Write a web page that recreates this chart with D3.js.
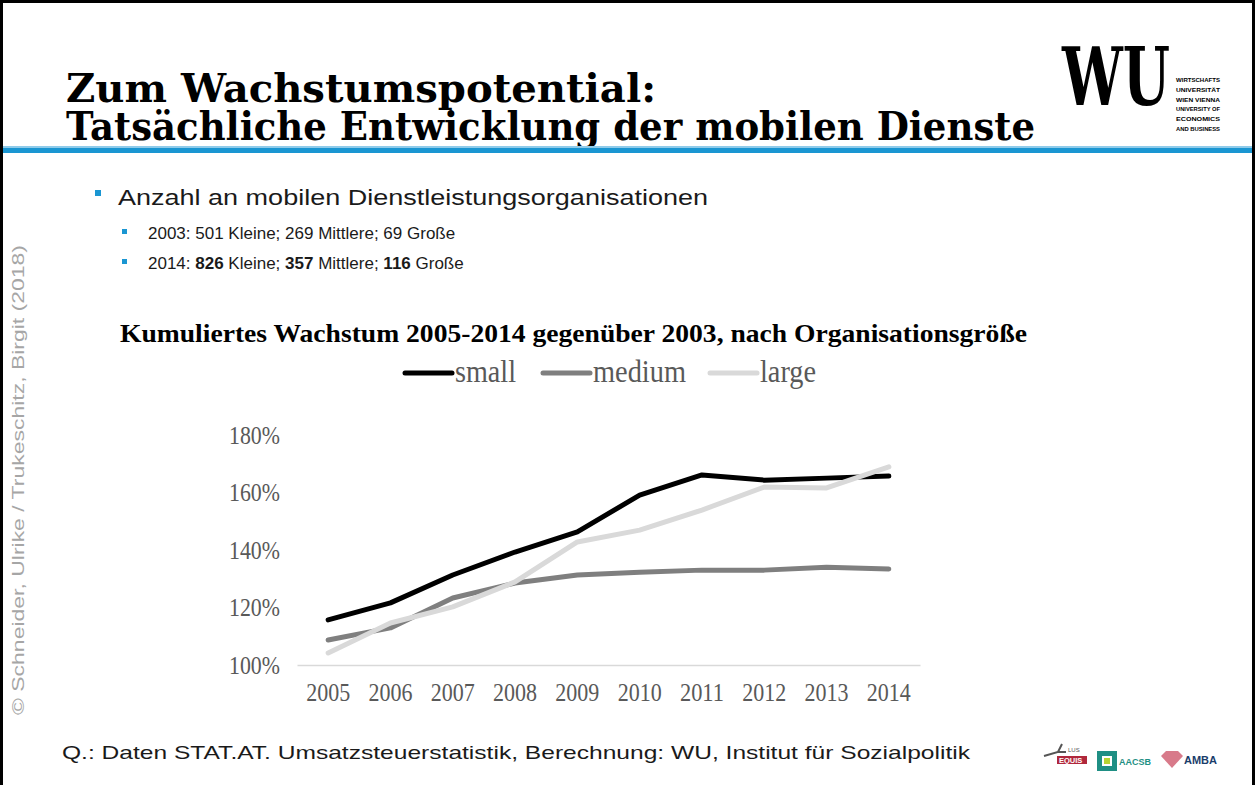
<!DOCTYPE html>
<html>
<head>
<meta charset="utf-8">
<script src="https://cdn.jsdelivr.net/npm/d3@7"></script>
<style>
  html, body { margin: 0; padding: 0; background: #fff; }
  svg { display: block; }
</style>
</head>
<body>
<div id="slide"></div>
<script>
// chart data
const years = ["2005", "2006", "2007", "2008", "2009", "2010", "2011", "2012", "2013", "2014"];
const smallValues = [115.7, 121.6, 131.3, 139.3, 146.3, 159.1, 166.1, 164.3, 165.0, 165.7];
const mediumValues = [108.7, 112.9, 123.3, 128.5, 131.3, 132.3, 133.0, 133.0, 134.0, 133.4];
const largeValues = [104.2, 114.6, 120.2, 128.9, 142.8, 146.9, 153.9, 161.9, 161.6, 168.9];
const seriesNames = ["small", "medium", "large"];
const yTicks = [100, 120, 140, 160, 180];

const width = 1255;
const height = 785;

const svg = d3.select("#slide")
    .append("svg")
    .attr("width", width)
    .attr("height", height);

// slide frame
svg.append("rect")
    .attr("x", 1.5).attr("y", 1.5)
    .attr("width", width - 3).attr("height", height + 10)
    .attr("fill", "none")
    .attr("stroke", "#000")
    .attr("stroke-width", 3);

// header title
const titleFont = "'DejaVu Serif', serif";
svg.append("text")
    .attr("x", 66).attr("y", 102)
    .attr("font-family", titleFont)
    .attr("font-weight", "bold")
    .attr("font-size", 40)
    .attr("textLength", 590)
    .attr("lengthAdjust", "spacingAndGlyphs")
    .text("Zum Wachstumspotential:");
svg.append("text")
    .attr("x", 66).attr("y", 140)
    .attr("font-family", titleFont)
    .attr("font-weight", "bold")
    .attr("font-size", 40)
    .attr("textLength", 969)
    .attr("lengthAdjust", "spacingAndGlyphs")
    .text("Tatsächliche Entwicklung der mobilen Dienste");

// blue rule under the header
svg.append("rect").attr("x", 3).attr("y", 146).attr("width", width - 6).attr("height", 2).attr("fill", "#8fcbea");
svg.append("rect").attr("x", 3).attr("y", 148).attr("width", width - 6).attr("height", 5).attr("fill", "#1a96d2");

// WU logo
const logo = svg.append("g");
logo.append("text")
    .attr("x", 1062).attr("y", 105)
    .attr("font-family", titleFont)
    .attr("font-weight", "bold")
    .attr("font-size", 80)
    .attr("textLength", 108)
    .attr("lengthAdjust", "spacingAndGlyphs")
    .text("WU");
// small name block, one text with a tspan per line
const logoLines = ["WIRTSCHAFTS", "UNIVERSITÄT", "WIEN VIENNA", "UNIVERSITY OF", "ECONOMICS", "AND BUSINESS"];
logo.append("text")
    .attr("font-family", "'Liberation Sans', sans-serif")
    .attr("font-weight", "bold")
    .attr("font-size", 5.5)
    .selectAll("tspan")
    .data(logoLines)
    .join("tspan")
    .attr("x", 1176)
    .attr("y", (d, i) => 82 + i * 9.8)
    .attr("textLength", 44)
    .attr("lengthAdjust", "spacingAndGlyphs")
    .text(d => d);

// vertical copyright
svg.append("text")
    .attr("transform", "translate(24,480) rotate(-90)")
    .attr("text-anchor", "middle")
    .attr("font-family", "'Liberation Sans', sans-serif")
    .attr("font-size", 17)
    .attr("fill", "#a6a6a6")
    .attr("textLength", 470)
    .attr("lengthAdjust", "spacingAndGlyphs")
    .text("© Schneider, Ulrike / Trukeschitz, Birgit (2018)");

// bullets
const sans = "'Liberation Sans', sans-serif";
svg.append("rect").attr("x", 95).attr("y", 190).attr("width", 6).attr("height", 6).attr("fill", "#1a96d2");
svg.append("text")
    .attr("x", 118).attr("y", 205)
    .attr("font-family", sans)
    .attr("font-size", 22)
    .attr("fill", "#1a1a1a")
    .attr("textLength", 590)
    .attr("lengthAdjust", "spacingAndGlyphs")
    .text("Anzahl an mobilen Dienstleistungsorganisationen");

const subBullets = [
    [["2003: ", false], ["501", false], [" Kleine; ", false], ["269", false], [" Mittlere; ", false], ["69", false], [" Große", false]],
    [["2014: ", false], ["826", true], [" Kleine; ", false], ["357", true], [" Mittlere; ", false], ["116", true], [" Große", false]]
];
subBullets.forEach((parts, i) => {
    const y = 239 + i * 30;
    svg.append("rect").attr("x", 122).attr("y", y - 10).attr("width", 5).attr("height", 5).attr("fill", "#1a96d2");
    const t = svg.append("text")
        .attr("x", 148).attr("y", y)
        .attr("font-family", sans)
        .attr("font-size", 17)
        .attr("fill", "#1a1a1a");
    parts.forEach(p => {
        t.append("tspan")
            .attr("font-weight", p[1] ? "bold" : "normal")
            .text(p[0]);
    });
});

// chart title
svg.append("text")
    .attr("x", 120).attr("y", 342)
    .attr("font-family", "'Liberation Serif', serif")
    .attr("font-weight", "bold")
    .attr("font-size", 25)
    .attr("textLength", 907)
    .attr("lengthAdjust", "spacingAndGlyphs")
    .text("Kumuliertes Wachstum 2005-2014 gegenüber 2003, nach Organisationsgröße");

// scales
const x = d3.scaleBand().domain(years).range([297, 920]);
const y = d3.scaleLinear().domain([100, 180]).range([665, 435]);
const color = d3.scaleOrdinal().domain(seriesNames).range(["#000000", "#7f7f7f", "#d9d9d9"]);
const series = [
    { name: "small", values: smallValues },
    { name: "medium", values: mediumValues },
    { name: "large", values: largeValues }
];

const serif = "'Liberation Serif', serif";

// y axis (labels only)
const yAxis = svg.append("g")
    .attr("transform", "translate(280,0)")
    .call(d3.axisLeft(y).tickValues(yTicks).tickSize(0).tickPadding(0).tickFormat(d => d + "%"));
yAxis.select(".domain").remove();
yAxis.selectAll("text")
    .attr("font-family", serif)
    .attr("font-size", 25)
    .attr("fill", "#595959")
    .attr("textLength", 51)
    .attr("lengthAdjust", "spacingAndGlyphs");

// x axis
const xAxis = svg.append("g")
    .attr("transform", "translate(0,665)")
    .call(d3.axisBottom(x).tickSize(0).tickPadding(18));
xAxis.select(".domain").attr("stroke", "#d9d9d9").attr("stroke-width", 1.3);
xAxis.selectAll("text")
    .attr("font-family", serif)
    .attr("font-size", 25)
    .attr("fill", "#595959")
    .attr("textLength", 44)
    .attr("lengthAdjust", "spacingAndGlyphs");

// lines
const line = d3.line()
    .x((d, i) => x(years[i]) + x.bandwidth() / 2)
    .y(d => y(d));

svg.append("g")
    .selectAll("path")
    .data(series)
    .join("path")
    .attr("d", d => line(d.values))
    .attr("fill", "none")
    .attr("stroke", d => color(d.name))
    .attr("stroke-width", 5)
    .attr("stroke-linejoin", "round")
    .attr("stroke-linecap", "round");

// legend
const legendX = [405, 543, 710];
const legendLen = [61, 93, 56];
const legend = svg.append("g")
    .selectAll("g")
    .data(seriesNames)
    .join("g")
    .attr("transform", (d, i) => `translate(${legendX[i]},373)`);
legend.append("line")
    .attr("x1", 0).attr("x2", 47)
    .attr("stroke", d => color(d))
    .attr("stroke-width", 5)
    .attr("stroke-linecap", "round");
legend.append("text")
    .attr("x", 50).attr("y", 9)
    .attr("font-family", serif)
    .attr("font-size", 31)
    .attr("fill", "#595959")
    .attr("textLength", (d, i) => legendLen[i])
    .attr("lengthAdjust", "spacingAndGlyphs")
    .text(d => d);

// source
svg.append("text")
    .attr("x", 62).attr("y", 759)
    .attr("font-family", sans)
    .attr("font-size", 19)
    .attr("fill", "#1a1a1a")
    .attr("textLength", 908)
    .attr("lengthAdjust", "spacingAndGlyphs")
    .text("Q.: Daten STAT.AT. Umsatzsteuerstatistik, Berechnung: WU, Institut für Sozialpolitik");

// accreditation logos (small)
const acc = svg.append("g");
acc.append("path").attr("d", "M1044,756 L1058,752 L1062,744 M1058,752 L1066,752").attr("stroke", "#555").attr("stroke-width", 2).attr("fill", "none");
acc.append("text").attr("x", 1068).attr("y", 752).attr("font-family", sans).attr("font-size", 6).attr("fill", "#555").text("LUS");
acc.append("rect").attr("x", 1057).attr("y", 756).attr("width", 30).attr("height", 8).attr("fill", "#b0283c");
acc.append("text").attr("x", 1059).attr("y", 763).attr("font-family", sans).attr("font-weight", "bold").attr("font-size", 7.5).attr("fill", "#fff").text("EQUIS");
acc.append("rect").attr("x", 1097).attr("y", 751).attr("width", 20).attr("height", 20).attr("fill", "#1f8f84");
acc.append("rect").attr("x", 1102).attr("y", 756).attr("width", 10).attr("height", 10).attr("fill", "#fff");
acc.append("rect").attr("x", 1104).attr("y", 758).attr("width", 6).attr("height", 6).attr("fill", "#b7d433");
acc.append("text").attr("x", 1119).attr("y", 765).attr("font-family", sans).attr("font-weight", "bold").attr("font-size", 9).attr("fill", "#1f8f84").text("AACSB");
acc.append("path").attr("d", "M1161,756 L1166,751 L1178,751 L1183,756 L1172,768 Z").attr("fill", "#d87a8a");
acc.append("text").attr("x", 1184).attr("y", 764).attr("font-family", sans).attr("font-weight", "bold").attr("font-size", 11).attr("fill", "#1a3d6b").text("AMBA");
</script>
</body>
</html>
